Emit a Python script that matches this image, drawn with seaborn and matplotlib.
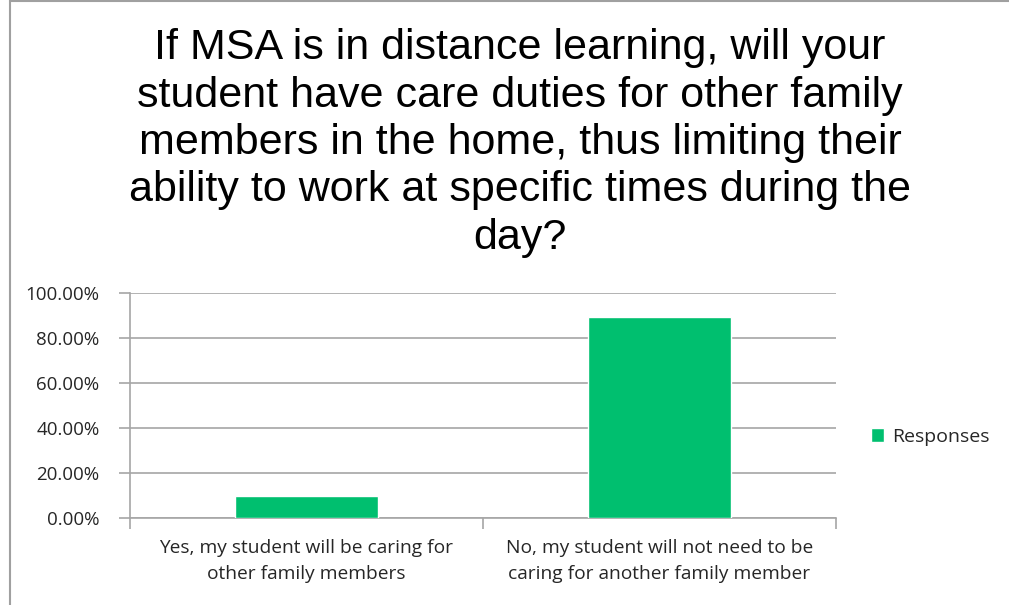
import matplotlib
matplotlib.use("Agg")
import matplotlib.pyplot as plt
from matplotlib.ticker import PercentFormatter
import pandas as pd
import seaborn as sns

TITLE = ("If MSA is in distance learning, will your\n"
         "student have care duties for other family\n"
         "members in the home, thus limiting their\n"
         "ability to work at specific times during the\n"
         "day?")
categories = ["Yes, my student will be caring for\nother family members",
              "No, my student will not need to be\ncaring for another family member"]
responses = [9.9, 89.2]
series = "Responses"
y_ticks = [0, 20, 40, 60, 80, 100]

BAR_COLOR = "#00bf6f"
GRID_COLOR = "#a6a6a6"
TEXT_COLOR = "#262626"

df = pd.DataFrame({"answer": categories, "pct": responses, "series": series})

sns.set_theme(style="white")
plt.rcParams["font.family"] = ["Open Sans", "DejaVu Sans"]

fig = plt.figure(figsize=(10.09, 6.05), dpi=100)
ax = fig.add_axes([130 / 1009, 87 / 605, 706 / 1009, 225 / 605])

sns.barplot(data=df, x="answer", y="pct", hue="series", palette=[BAR_COLOR],
            width=0.405, saturation=1, ax=ax, zorder=3)

ax.set_ylim(0, 100)
ax.set_xlim(-0.5, 1.5)
ax.set_yticks(y_ticks)
ax.yaxis.set_major_formatter(PercentFormatter(decimals=2))
ax.grid(axis="y", color=GRID_COLOR, linewidth=1.2, zorder=0)
ax.set_axisbelow(True)
ax.set_xlabel("")
ax.set_ylabel("")

for side in ["top", "right"]:
    ax.spines[side].set_visible(False)
for side in ["left", "bottom"]:
    ax.spines[side].set_color(GRID_COLOR)
    ax.spines[side].set_linewidth(1.2)

ax.tick_params(axis="y", left=True, length=8, width=1.2, color=GRID_COLOR,
               labelsize=13.5, labelcolor=TEXT_COLOR, pad=14)
ax.set_xticks([0, 1])
ax.set_xticklabels(categories, fontsize=13.8, color=TEXT_COLOR, linespacing=1.6)
ax.tick_params(axis="x", bottom=False, pad=9)
# category boundary ticks like the spreadsheet chart
ax.set_xticks([-0.5, 0.5, 1.5], minor=True)
ax.tick_params(axis="x", which="minor", bottom=True, length=8, width=1.2,
               color=GRID_COLOR)

leg = ax.legend(loc="center left", bbox_to_anchor=(1.025, 0.36), frameon=False,
                fontsize=14, handlelength=0.65, handleheight=0.75,
                handletextpad=0.45, labelcolor=TEXT_COLOR)

fig.text(520 / 1009, 1 - 143 / 605, TITLE, ha="center", va="center",
         fontsize=31, family=["Liberation Sans", "DejaVu Sans"],
         color="black", linespacing=1.24)

# outer frame of the chart area
fig.add_artist(plt.Line2D([10 / 1009, 10 / 1009], [0, 1], color="#a0a0a0",
                          linewidth=1.5, transform=fig.transFigure))
fig.add_artist(plt.Line2D([10 / 1009, 1], [0.998, 0.998], color="#a0a0a0",
                          linewidth=1.5, transform=fig.transFigure))

fig.savefig("out.png", dpi=100, facecolor="white")
